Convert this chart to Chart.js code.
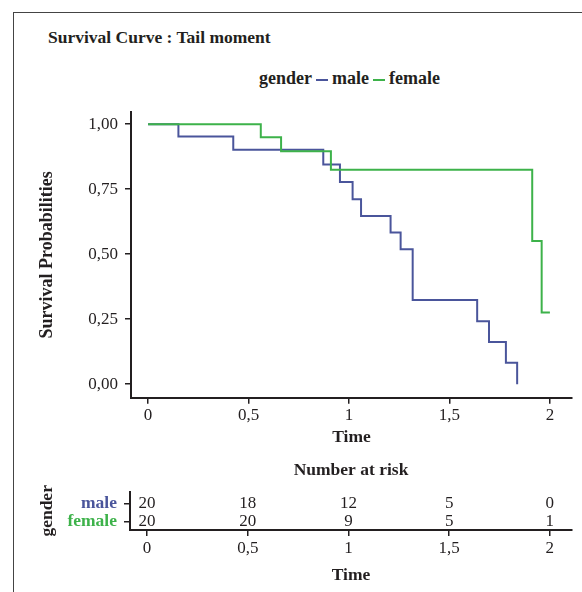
<!DOCTYPE html>
<html>
<head>
<meta charset="utf-8">
<script src="https://cdn.jsdelivr.net/npm/chart.js@4.4.0/dist/chart.umd.min.js"></script>
<style>
  body {
    margin: 0;
    width: 582px;
    height: 592px;
    background: #fff;
    position: relative;
    overflow: hidden;
    font-family: "Liberation Serif", serif;
    color: #231f20;
  }
  .frame {
    position: absolute;
    left: 13px;
    top: 12px;
    width: 700px;
    height: 700px;
    border-left: 1.5px solid #444;
    border-top: 1.5px solid #444;
  }
  .title {
    position: absolute;
    left: 48px;
    top: 27px;
    font-size: 17.5px;
    font-weight: bold;
    white-space: nowrap;
  }
  .legend {
    position: absolute;
    left: 131px;
    width: 437px;
    top: 68px;
    text-align: center;
    font-size: 18px;
    font-weight: bold;
    white-space: nowrap;
  }
  .dash {
    display: inline-block;
    width: 12px;
    height: 2px;
    margin: 0 4px;
    vertical-align: middle;
  }
  #main { position: absolute; left: 0; top: 95px; }
  #risk { position: absolute; left: 0; top: 455px; }
</style>
</head>
<body>
<div class="frame"></div>
<div class="title">Survival Curve : Tail moment</div>
<div class="legend" id="legend"></div>
<canvas id="main" width="582" height="365"></canvas>
<canvas id="risk" width="582" height="137"></canvas>

<script>
// -----------------------------
// Data
// -----------------------------
const xTicks = [0, 0.5, 1, 1.5, 2];
const xTickLabels = ["0", "0,5", "1", "1,5", "2"];
const yTicks = [0, 0.25, 0.5, 0.75, 1];
const yTickLabels = ["0,00", "0,25", "0,50", "0,75", "1,00"];

const maleTimes = [0, 0.151, 0.424, 0.872, 0.955, 1.018, 1.06, 1.207, 1.257, 1.317, 1.638, 1.697, 1.781, 1.837];
const maleSurv  = [1, 0.953, 0.902, 0.845, 0.778, 0.711, 0.647, 0.583, 0.519, 0.324, 0.242, 0.162, 0.082, 0];

const femaleTimes = [0, 0.561, 0.662, 0.91, 1.912, 1.959, 2.0];
const femaleSurv  = [1, 0.95, 0.896, 0.825, 0.551, 0.276, 0.276];

const riskTimes = [0, 0.5, 1, 1.5, 2];
const maleAtRisk = [20, 18, 12, 5, 0];
const femaleAtRisk = [20, 20, 9, 5, 1];
const riskRows = { female: 1, male: 2 };

const MALE_COLOR = "#4a559b";
const FEMALE_COLOR = "#3db24a";
const INK = "#231f20";
const X_MIN = -0.085;
const X_MAX = 2.11;

Chart.defaults.font.family = "'Liberation Serif', serif";
Chart.defaults.color = INK;

// -----------------------------
// Helpers
// -----------------------------
function toPoints(xs, ys) {
  return xs.map((x, i) => ({ x: x, y: ys[i] }));
}

function fixTicks(values) {
  return scale => { scale.ticks = values.map(v => ({ value: v })); };
}

function axisStyle() {
  return {
    grid: { drawOnChartArea: false, drawTicks: true, tickLength: 6, color: INK, lineWidth: 1.5 },
    border: { display: true, color: INK, width: 2 }
  };
}

// legend (text + coloured dash)
const legend = document.getElementById("legend");
legend.innerHTML =
  'gender<span class="dash" style="background:' + MALE_COLOR + '"></span>male' +
  '<span class="dash" style="background:' + FEMALE_COLOR + '"></span>female';

// -----------------------------
// Survival curves
// -----------------------------
new Chart(document.getElementById("main"), {
  type: "line",
  data: {
    datasets: [
      {
        label: "female",
        data: toPoints(femaleTimes, femaleSurv),
        borderColor: FEMALE_COLOR,
        borderWidth: 2,
        stepped: true,
        pointRadius: 0,
        fill: false,
        order: 0
      },
      {
        label: "male",
        data: toPoints(maleTimes, maleSurv),
        borderColor: MALE_COLOR,
        borderWidth: 2,
        stepped: true,
        pointRadius: 0,
        fill: false,
        order: 1
      }
    ]
  },
  options: {
    responsive: false,
    animation: false,
    devicePixelRatio: 1,
    layout: { padding: { left: 30, right: 10, top: 15.7, bottom: 0 } },
    plugins: { legend: { display: false }, tooltip: { enabled: false } },
    scales: {
      x: {
        type: "linear",
        min: X_MIN,
        max: X_MAX,
        afterBuildTicks: fixTicks(xTicks),
        afterFit: s => { s.height = 62.3; },
        ticks: { callback: (v, i) => xTickLabels[i], font: { size: 17 }, padding: 2, maxRotation: 0, autoSkip: false },
        ...axisStyle(),
        title: { display: true, text: "Time", font: { size: 17.5, weight: "bold" }, padding: { top: 0, bottom: 12 } }
      },
      y: {
        type: "linear",
        min: -0.052,
        max: 1.046,
        afterBuildTicks: fixTicks(yTicks),
        afterFit: s => { s.width = 101; },
        ticks: { callback: (v, i) => yTickLabels[i], font: { size: 17 }, padding: 7, autoSkip: false },
        ...axisStyle(),
        title: { display: true, text: "Survival Probabilities", font: { size: 18, weight: "bold" }, padding: { top: 6.5, bottom: 0 } }
      }
    }
  }
});

// -----------------------------
// Number at risk table
// -----------------------------
const riskLabels = {
  id: "riskLabels",
  afterDatasetsDraw(chart) {
    const ctx = chart.ctx;
    ctx.save();
    ctx.font = "17px 'Liberation Serif'";
    ctx.fillStyle = INK;
    ctx.textAlign = "center";
    ctx.textBaseline = "middle";
    chart.data.datasets.forEach((ds, di) => {
      chart.getDatasetMeta(di).data.forEach((pt, i) => {
        ctx.fillText(String(ds.data[i].n), pt.x, pt.y);
      });
    });
    ctx.restore();
  }
};

new Chart(document.getElementById("risk"), {
  type: "scatter",
  data: {
    datasets: [
      {
        label: "male",
        data: riskTimes.map((t, i) => ({ x: t, y: riskRows.male, n: maleAtRisk[i] })),
        pointRadius: 0
      },
      {
        label: "female",
        data: riskTimes.map((t, i) => ({ x: t, y: riskRows.female, n: femaleAtRisk[i] })),
        pointRadius: 0
      }
    ]
  },
  options: {
    responsive: false,
    animation: false,
    devicePixelRatio: 1,
    layout: { padding: { left: 30, right: 10, top: 0, bottom: 0 } },
    plugins: { legend: { display: false }, tooltip: { enabled: false } },
    scales: {
      x: {
        type: "linear",
        position: "bottom",
        min: X_MIN,
        max: X_MAX,
        afterBuildTicks: fixTicks(xTicks),
        afterFit: s => { s.height = 62; },
        ticks: { callback: (v, i) => xTickLabels[i], font: { size: 17 }, padding: 2, maxRotation: 0, autoSkip: false },
        ...axisStyle(),
        title: { display: true, text: "Time", font: { size: 17.5, weight: "bold" }, padding: { top: 0, bottom: 6.5 } }
      },
      xTop: {
        type: "linear",
        axis: "x",
        position: "top",
        min: X_MIN,
        max: X_MAX,
        afterFit: s => { s.height = 36.7; },
        ticks: { display: false },
        grid: { display: false, drawTicks: false },
        border: { display: false },
        title: { display: true, text: "Number at risk", font: { size: 17.5, weight: "bold" }, padding: { top: 5, bottom: 0 } }
      },
      y: {
        type: "linear",
        min: 0.55,
        max: 2.63,
        afterBuildTicks: fixTicks([riskRows.female, riskRows.male]),
        afterFit: s => { s.width = 100; },
        ticks: {
          callback: v => (v === riskRows.male ? "male" : "female"),
          color: c => (c.tick && c.tick.value === riskRows.male ? MALE_COLOR : FEMALE_COLOR),
          font: { size: 17.5, weight: "bold" },
          padding: 7,
          autoSkip: false
        },
        ...axisStyle(),
        title: { display: true, text: "gender", font: { size: 17.5, weight: "bold" }, padding: { top: 6.5, bottom: 0 } }
      }
    }
  },
  plugins: [riskLabels]
});
</script>
</body>
</html>
